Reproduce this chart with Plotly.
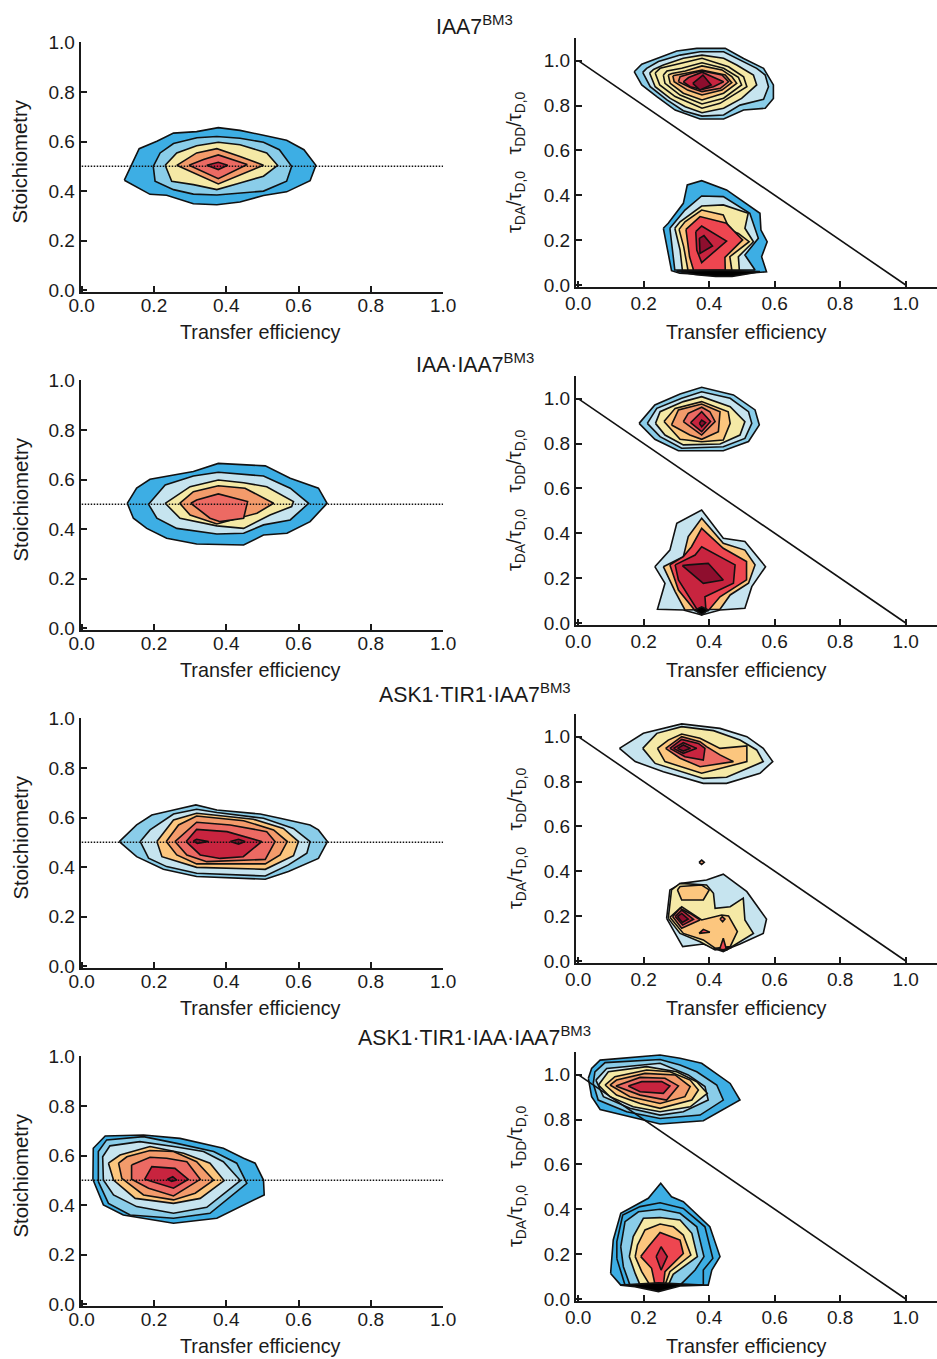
import plotly.graph_objects as go

W, H = 937, 1359
ROW_STEP = 338

TITLES = ["IAA7<sup>BM3</sup>", "IAA·IAA7<sup>BM3</sup>", "ASK1·TIR1·IAA7<sup>BM3</sup>", "ASK1·TIR1·IAA·IAA7<sup>BM3</sup>"]
TITLE_Y = [26, 363.5, 693.5, 1036.5]
TICKS = [0.0, 0.2, 0.4, 0.6, 0.8, 1.0]
TICK_LABELS = ["0.0", "0.2", "0.4", "0.6", "0.8", "1.0"]
XLABEL = "Transfer efficiency"
YLABEL_L = "Stoichiometry"
YLABEL_R = "τ<sub>DA</sub>/τ<sub>D,0</sub>&nbsp;&nbsp;&nbsp;τ<sub>DD</sub>/τ<sub>D,0</sub>"

# contour levels: index into this colour ramp (9 = black crowding of lines)
LEVEL_COLORS = ["#3DAEE4", "#8ACDE9", "#C6E4EF", "#F5E9A6", "#FCC67E", "#F39B6B",
                "#EC6A63", "#EE4650", "#C8243F", "#8E0E2E", "#000000"]

# (level, [(x, y), ...])
IAA7_S = [
 (0, [(.118,.444),(.189,.387),(.235,.383),(.309,.349),(.374,.345),(.438,.356),(.503,.382),(.567,.397),(.632,.442),(.648,.504),(.615,.567),(.567,.605),(.503,.625),(.438,.645),(.378,.656),(.318,.640),(.254,.634),(.208,.601),(.159,.571)]),
 (1, [(.198,.500),(.203,.440),(.254,.406),(.309,.388),(.374,.384),(.438,.391),(.503,.400),(.567,.440),(.581,.500),(.547,.567),(.503,.597),(.438,.613),(.374,.620),(.319,.615),(.254,.592),(.217,.554)]),
 (3, [(.231,.504),(.249,.440),(.309,.426),(.374,.406),(.438,.433),(.503,.460),(.542,.504),(.512,.554),(.438,.587),(.378,.597),(.318,.583),(.263,.554)]),
 (5, [(.263,.504),(.309,.473),(.378,.429),(.503,.504),(.438,.540),(.374,.571),(.318,.554)]),
 (6, [(.297,.504),(.378,.450),(.458,.507),(.378,.546),(.337,.527)]),
 (8, [(.346,.504),(.378,.487),(.404,.504),(.378,.516)]),
]
IAA7_T = [
 (1, [(.171,.951),(.194,.892),(.240,.840),(.296,.780),(.372,.740),(.444,.740),(.505,.780),(.571,.788),(.596,.832),(.596,.892),(.566,.966),(.505,1.010),(.449,1.055),(.362,1.055),(.301,1.043),(.240,1.010),(.194,.984)]),
 (2, [(.197,.948),(.220,.884),(.271,.825),(.321,.777),(.378,.753),(.444,.758),(.494,.802),(.566,.828),(.581,.884),(.571,.936),(.545,.966),(.494,1.003),(.444,1.040),(.372,1.040),(.311,1.025),(.245,.996),(.209,.966)]),
 (3, [(.218,.945),(.235,.884),(.281,.832),(.327,.795),(.378,.768),(.444,.788),(.499,.832),(.545,.892),(.535,.936),(.484,.981),(.444,1.011),(.378,1.025),(.321,1.011),(.260,.981),(.230,.961)]),
 (3, [(.235,.945),(.249,.892),(.296,.840),(.378,.788),(.433,.810),(.515,.884),(.505,.928),(.459,.973),(.378,1.011),(.311,.988),(.250,.966)]),
 (3, [(.260,.936),(.265,.899),(.311,.847),(.378,.807),(.444,.833),(.499,.892),(.489,.926),(.444,.966),(.378,.991),(.316,.966),(.271,.954)]),
 (4, [(.275,.936),(.281,.899),(.321,.855),(.378,.825),(.444,.855),(.484,.899),(.469,.929),(.439,.959),(.378,.977),(.327,.954),(.286,.943)]),
 (5, [(.289,.933),(.293,.906),(.334,.869),(.378,.847),(.439,.869),(.469,.902),(.449,.936),(.378,.958),(.337,.946),(.299,.936)]),
 (6, [(.306,.906),(.311,.929),(.347,.944),(.378,.954),(.439,.936),(.459,.906),(.434,.877),(.378,.862),(.347,.877)]),
 (8, [(.321,.906),(.337,.925),(.378,.949),(.423,.922),(.444,.906),(.413,.884),(.378,.872),(.342,.884)]),
 (9, [(.350,.899),(.381,.936),(.406,.892),(.372,.869)]),
]
IAA7_B = [
 (0, [(.260,.253),(.285,.064),(.310,.052),(.400,.045),(.500,.050),(.575,.059),(.560,.126),(.577,.193),(.558,.245),(.555,.320),(.453,.424),(.377,.465),(.333,.446),(.321,.364),(.275,.275)]),
 (2, [(.280,.253),(.295,.067),(.540,.067),(.509,.134),(.550,.208),(.524,.320),(.443,.394),(.377,.397),(.326,.334)]),
 (3, [(.295,.253),(.311,.156),(.318,.067),(.492,.067),(.489,.126),(.535,.193),(.509,.253),(.519,.320),(.443,.357),(.377,.352),(.311,.282)]),
 (4, [(.308,.248),(.322,.171),(.335,.067),(.469,.067),(.463,.126),(.522,.193),(.489,.230),(.463,.245),(.443,.312),(.377,.334),(.326,.282)]),
 (7, [(.329,.248),(.340,.126),(.352,.067),(.449,.067),(.448,.123),(.502,.201),(.453,.275),(.372,.305)]),
 (8, [(.359,.238),(.362,.156),(.377,.100),(.453,.196),(.377,.263)]),
 (9, [(.370,.208),(.372,.141),(.410,.174),(.384,.220)]),
 (10, [(.300,.062),(.360,.046),(.420,.038),(.470,.038),(.520,.050),(.555,.060),(.430,.066)]),
]
IAA_S = [
 (0, [(.126,.504),(.143,.444),(.180,.403),(.235,.363),(.318,.340),(.448,.336),(.503,.376),(.568,.383),(.632,.430),(.679,.504),(.655,.565),(.577,.605),(.508,.655),(.378,.665),(.309,.632),(.189,.601),(.152,.565)]),
 (2, [(.185,.500),(.208,.444),(.263,.403),(.374,.380),(.448,.383),(.503,.417),(.577,.437),(.628,.504),(.577,.565),(.503,.614),(.378,.629),(.309,.614),(.231,.578)]),
 (3, [(.231,.504),(.272,.444),(.374,.413),(.448,.403),(.521,.457),(.581,.491),(.586,.511),(.512,.571),(.448,.587),(.378,.598),(.300,.571)]),
 (5, [(.271,.504),(.300,.457),(.374,.421),(.485,.464),(.531,.504),(.452,.565),(.378,.575),(.309,.551)]),
 (6, [(.302,.504),(.355,.444),(.383,.430),(.448,.444),(.459,.511),(.378,.542),(.318,.517)]),
]
IAA_T = [
 (1, [(.186,.890),(.234,.819),(.306,.768),(.443,.768),(.520,.809),(.553,.883),(.540,.950),(.474,1.017),(.377,1.051),(.311,1.021),(.234,.972)]),
 (2, [(.211,.890),(.250,.831),(.316,.779),(.443,.786),(.509,.823),(.530,.890),(.520,.942),(.464,1.002),(.377,1.031),(.316,1.002),(.240,.957)]),
 (3, [(.236,.890),(.265,.838),(.321,.794),(.433,.798),(.494,.838),(.509,.898),(.464,.964),(.377,1.009),(.321,.987),(.250,.942)]),
 (4, [(.262,.898),(.311,.819),(.377,.808),(.443,.816),(.464,.890),(.458,.942),(.377,.987),(.296,.957)]),
 (5, [(.285,.883),(.341,.838),(.377,.819),(.428,.853),(.433,.942),(.377,.976),(.306,.950)]),
 (6, [(.321,.898),(.377,.838),(.418,.898),(.402,.942),(.377,.962),(.336,.935)]),
 (8, [(.343,.893),(.377,.853),(.404,.898),(.377,.942)]),
 (9, [(.370,.890),(.377,.875),(.389,.893),(.377,.905)]),
]
IAA_B = [
 (2, [(.234,.251),(.265,.177),(.242,.061),(.321,.058),(.377,.036),(.433,.058),(.509,.066),(.530,.162),(.572,.251),(.509,.363),(.443,.378),(.377,.504),(.301,.444),(.280,.325)]),
 (4, [(.260,.251),(.296,.140),(.326,.058),(.433,.061),(.464,.125),(.520,.177),(.540,.259),(.509,.325),(.443,.355),(.377,.467),(.336,.385),(.321,.296)]),
 (7, [(.280,.259),(.306,.147),(.357,.055),(.397,.055),(.433,.117),(.514,.192),(.514,.274),(.443,.333),(.377,.422),(.346,.340),(.321,.296)]),
 (8, [(.296,.259),(.306,.192),(.364,.058),(.390,.058),(.387,.117),(.474,.177),(.479,.259),(.433,.296),(.377,.340),(.357,.303),(.316,.273)]),
 (9, [(.318,.256),(.382,.177),(.443,.192),(.397,.266),(.336,.259)]),
 (10, [(.357,.058),(.377,.036),(.397,.058),(.377,.072)]),
]
ASK_S = [
 (1, [(.104,.503),(.152,.442),(.226,.391),(.318,.362),(.508,.351),(.572,.382),(.655,.435),(.680,.503),(.655,.550),(.632,.570),(.549,.597),(.494,.614),(.374,.630),(.316,.651),(.254,.630),(.194,.610),(.152,.570)]),
 (2, [(.162,.503),(.185,.436),(.235,.402),(.318,.375),(.508,.364),(.572,.409),(.623,.456),(.632,.503),(.586,.556),(.503,.597),(.374,.620),(.318,.633),(.254,.614),(.189,.550)]),
 (4, [(.208,.503),(.222,.442),(.318,.399),(.508,.391),(.586,.446),(.600,.503),(.558,.556),(.475,.593),(.365,.610),(.318,.617),(.254,.590)]),
 (5, [(.234,.503),(.263,.449),(.318,.413),(.508,.413),(.549,.449),(.569,.503),(.531,.550),(.448,.587),(.318,.606),(.268,.570)]),
 (6, [(.258,.503),(.291,.449),(.346,.422),(.508,.431),(.535,.503),(.512,.543),(.411,.570),(.318,.581)]),
 (8, [(.289,.503),(.328,.449),(.383,.435),(.447,.442),(.498,.503),(.402,.543),(.318,.552)]),
 (9, [(.309,.505),(.318,.512),(.351,.503),(.320,.496)]),
 (9, [(.411,.503),(.434,.512),(.452,.503),(.434,.493)]),
]
ASK_T = [
 (2, [(.126,.948),(.174,.889),(.260,.844),(.382,.792),(.453,.792),(.555,.837),(.594,.889),(.565,.948),(.515,1.000),(.433,1.037),(.316,1.057),(.199,1.015)]),
 (3, [(.197,.948),(.235,.881),(.382,.814),(.453,.819),(.565,.889),(.545,.941),(.494,.985),(.413,1.027),(.316,1.045),(.240,1.015)]),
 (4, [(.242,.948),(.265,.889),(.377,.837),(.515,.889),(.515,.959),(.433,.948),(.372,.993),(.316,1.012),(.275,.985)]),
 (6, [(.267,.948),(.311,.904),(.372,.866),(.474,.889),(.433,.919),(.392,.956),(.372,.978),(.316,1.000)]),
 (8, [(.280,.948),(.326,.911),(.382,.896),(.387,.948),(.367,.970),(.316,.988)]),
 (8, [(.291,.948),(.321,.926),(.362,.948),(.321,.973)]),
 (9, [(.303,.948),(.321,.936),(.343,.948),(.321,.963)]),
]
ASK_B = [
 (2, [(.270,.190),(.319,.064),(.382,.076),(.443,.046),(.494,.076),(.565,.123),(.575,.187),(.515,.309),(.443,.387),(.392,.361),(.316,.346),(.280,.317)]),
 (3, [(.275,.190),(.311,.123),(.372,.086),(.418,.049),(.469,.064),(.535,.123),(.509,.183),(.504,.280),(.464,.242),(.418,.235),(.413,.302),(.392,.339),(.311,.346),(.285,.317)]),
 (4, [(.303,.317),(.316,.272),(.382,.272),(.400,.317),(.377,.339),(.311,.332)]),
 (4, [(.280,.195),(.321,.123),(.382,.094),(.418,.057),(.464,.064),(.486,.131),(.459,.201),(.438,.205),(.377,.183),(.362,.198),(.316,.242)]),
 (6, [(.288,.198),(.316,.146),(.372,.183),(.341,.212),(.311,.235)]),
 (8, [(.296,.198),(.319,.160),(.352,.186),(.316,.227)]),
 (9, [(.303,.198),(.318,.172),(.336,.187),(.316,.212)]),
 (6, [(.433,.187),(.441,.175),(.448,.187),(.440,.198)]),
 (7, [(.369,.123),(.402,.128),(.382,.141)]),
 (7, [(.431,.049),(.443,.101),(.453,.049)]),
 (10, [(.413,.057),(.443,.042),(.469,.061),(.443,.050)]),
 (5, [(.369,.440),(.377,.450),(.385,.440),(.377,.430)]),
]
COMPLEX_S = [
 (0, [(.031,.503),(.060,.401),(.115,.360),(.254,.327),(.374,.347),(.505,.441),(.503,.501),(.480,.569),(.448,.589),(.392,.629),(.272,.669),(.171,.683),(.065,.679),(.032,.629)]),
 (1, [(.046,.495),(.074,.407),(.134,.360),(.254,.347),(.355,.367),(.457,.488),(.429,.569),(.365,.616),(.263,.649),(.171,.676),(.069,.663),(.046,.616)]),
 (2, [(.060,.501),(.088,.441),(.152,.394),(.254,.367),(.346,.391),(.439,.499),(.392,.575),(.337,.616),(.254,.636),(.161,.656),(.078,.639),(.058,.595)]),
 (4, [(.074,.569),(.088,.501),(.148,.427),(.254,.407),(.328,.427),(.394,.499),(.355,.569),(.282,.609),(.189,.636),(.106,.602)]),
 (5, [(.102,.569),(.111,.508),(.171,.441),(.254,.421),(.314,.448),(.365,.501),(.318,.575),(.254,.616),(.189,.620),(.125,.595)]),
 (6, [(.138,.562),(.138,.504),(.185,.468),(.254,.437),(.328,.504),(.291,.575),(.235,.589),(.189,.593)]),
 (8, [(.174,.504),(.254,.468),(.295,.504),(.258,.548),(.194,.555)]),
 (9, [(.237,.504),(.252,.515),(.263,.501),(.249,.496)]),
]
COMPLEX_T = [
 (0, [(.031,.984),(.041,.902),(.067,.845),(.158,.813),(.250,.780),(.382,.795),(.494,.887),(.464,.961),(.377,1.051),(.311,1.073),(.250,1.088),(.067,1.065),(.041,1.028)]),
 (1, [(.046,.961),(.061,.887),(.148,.835),(.250,.805),(.372,.820),(.443,.887),(.423,.954),(.362,1.013),(.311,1.043),(.250,1.068),(.082,1.054),(.051,1.013)]),
 (2, [(.054,.976),(.077,.902),(.158,.850),(.250,.820),(.321,.835),(.397,.887),(.387,.947),(.336,.999),(.250,1.051),(.087,1.028)]),
 (3, [(.062,.954),(.097,.902),(.168,.857),(.250,.835),(.342,.857),(.394,.917),(.362,.969),(.301,1.013),(.209,1.036),(.092,1.013)]),
 (4, [(.082,.954),(.117,.909),(.189,.872),(.250,.850),(.347,.887),(.367,.932),(.342,.976),(.280,1.013),(.209,1.021),(.112,.991)]),
 (5, [(.097,.954),(.158,.902),(.250,.872),(.326,.902),(.342,.947),(.296,.999),(.204,1.006),(.117,.976)]),
 (6, [(.115,.950),(.189,.909),(.270,.887),(.306,.950),(.265,.984),(.189,.988)]),
 (8, [(.153,.950),(.189,.924),(.260,.917),(.280,.950),(.255,.969),(.194,.969)]),
]
COMPLEX_B = [
 (0, [(.099,.114),(.130,.062),(.397,.062),(.408,.129),(.433,.189),(.402,.322),(.321,.434),(.285,.456),(.252,.516),(.214,.449),(.130,.382),(.107,.263)]),
 (0, [(.118,.180),(.143,.062),(.382,.062),(.382,.129),(.411,.181),(.387,.322),(.321,.404),(.250,.429),(.189,.412),(.136,.374),(.118,.256)]),
 (1, [(.130,.233),(.138,.144),(.158,.062),(.311,.062),(.357,.129),(.384,.189),(.362,.322),(.311,.382),(.250,.400),(.184,.389),(.143,.345)]),
 (3, [(.156,.189),(.174,.114),(.189,.062),(.275,.062),(.290,.110),(.364,.189),(.347,.293),(.311,.352),(.250,.363),(.199,.360),(.168,.278)]),
 (4, [(.174,.189),(.194,.122),(.219,.062),(.265,.062),(.280,.122),(.344,.196),(.321,.285),(.291,.322),(.250,.334),(.204,.308),(.181,.241)]),
 (7, [(.191,.189),(.224,.137),(.235,.062),(.260,.062),(.265,.122),(.321,.203),(.311,.263),(.250,.297),(.214,.233)]),
 (8, [(.238,.189),(.253,.129),(.272,.189),(.253,.233)]),
 (10, [(.130,.062),(.173,.055),(.245,.033),(.311,.058),(.382,.062),(.245,.072)]),
]

DOTTED_X = [0, 1]
DOTTED_Y = [0.5, 0.5]
DIAG_X = [0, 1]
DIAG_Y = [1, 0]

LEFT_PANELS = [IAA7_S, IAA_S, ASK_S, COMPLEX_S]
RIGHT_PANELS = [IAA7_T + IAA7_B, IAA_T + IAA_B, ASK_T + ASK_B, COMPLEX_T + COMPLEX_B]

INK = "#1A1A1A"
fig = go.Figure()
layout = {}
annotations = []


def draw(polys, axis_id):
    for level, pts in polys:
        xs = [p[0] for p in pts] + [pts[0][0]]
        ys = [p[1] for p in pts] + [pts[0][1]]
        fig.add_trace(go.Scatter(x=xs, y=ys, mode="lines", fill="toself",
                                 fillcolor=LEVEL_COLORS[level],
                                 line=dict(color="#111111", width=1.6),
                                 xaxis=f"x{axis_id}", yaxis=f"y{axis_id}",
                                 hoverinfo="skip", showlegend=False))


def add_axes(axis_id, px_x, px_y, xr, yr, standoff):
    common = dict(showgrid=False, zeroline=False, showline=True, linecolor=INK, linewidth=2,
                  automargin=False, ticks="inside", ticklen=6, tickwidth=1.5, tickcolor=INK,
                  tickvals=TICKS, ticktext=TICK_LABELS,
                  tickfont=dict(family="Liberation Sans, Arial", size=19, color=INK))
    layout[f"xaxis{axis_id}"] = dict(domain=[px_x[0] / W, px_x[1] / W], range=xr,
                                     anchor=f"y{axis_id}", ticklabelstandoff=standoff, **common)
    layout[f"yaxis{axis_id}"] = dict(domain=[1 - px_y[1] / H, 1 - px_y[0] / H], range=yr,
                                     anchor=f"x{axis_id}", **common)


def text(s, px, py, size=19.8, angle=0):
    annotations.append(dict(text=s, x=px / W, y=1 - py / H, xref="paper", yref="paper",
                            xanchor="center", yanchor="middle", showarrow=False, textangle=angle,
                            font=dict(family="Liberation Sans, Arial", size=size, color=INK)))


for r in range(4):
    dy = r * ROW_STEP
    aL, aR = 2 * r + 1, 2 * r + 2
    add_axes(aL, (80.7, 443.2), (42.2 + dy, 292 + dy), [-0.0028, 1.0003], [-0.0069, 1.0005], -5)
    add_axes(aR, (576, 937), (38.3 + dy, 286.7 + dy), [-0.0067, 1.0955], [-0.0076, 1.0999], -2)
    draw(LEFT_PANELS[r], aL)
    fig.add_trace(go.Scatter(x=DOTTED_X, y=DOTTED_Y, mode="lines",
                             line=dict(color="#111111", width=1.5, dash="1.5px,1.5px"),
                             xaxis=f"x{aL}", yaxis=f"y{aL}", hoverinfo="skip", showlegend=False))
    draw(RIGHT_PANELS[r], aR)
    fig.add_trace(go.Scatter(x=DIAG_X, y=DIAG_Y, mode="lines",
                             line=dict(color="#111111", width=1.6),
                             xaxis=f"x{aR}", yaxis=f"y{aR}", hoverinfo="skip", showlegend=False))
    text(XLABEL, 260, 332 + dy)
    text(XLABEL, 746.5, 332 + dy)
    text(YLABEL_L, 20, 161.5 + dy, size=20.4, angle=-90)
    text(YLABEL_R, 516, 162 + dy, angle=-90)
    text(TITLES[r], 475, TITLE_Y[r], size=21.3)

fig.update_layout(width=W, height=H, margin=dict(l=0, r=0, t=0, b=0),
                  paper_bgcolor="white", plot_bgcolor="rgba(0,0,0,0)",
                  showlegend=False, annotations=annotations, **layout)
fig.write_html("out.html", config={"displayModeBar": False},
               post_script="document.body.style.margin='0';")
